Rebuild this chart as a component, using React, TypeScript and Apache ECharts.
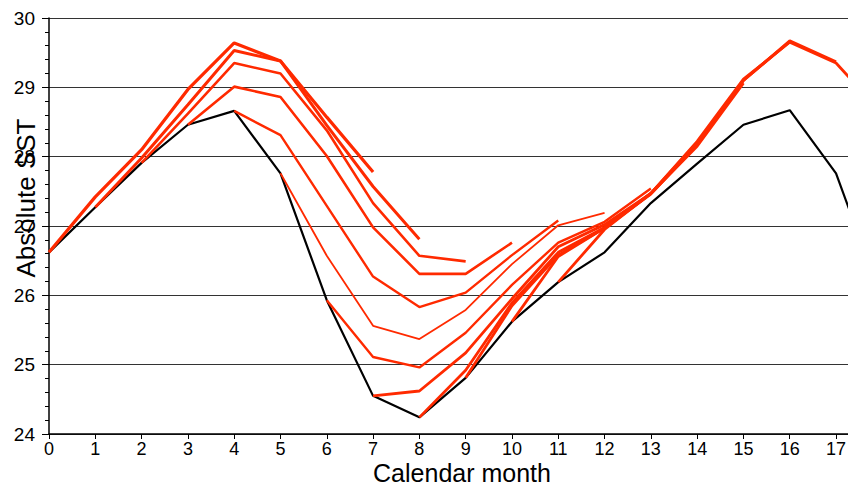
import { useEffect, useRef } from 'react';
import * as echarts from 'echarts';

// Calendar months along the x axis (0..18; the axis is cut at 17.28)
const monthTicks = [0, 1, 2, 3, 4, 5, 6, 7, 8, 9, 10, 11, 12, 13, 14, 15, 16, 17];
const climMonths = [0, 1, 2, 3, 4, 5, 6, 7, 8, 9, 10, 11, 12, 13, 14, 15, 16, 17, 18];
const climatology = [26.62, 27.27, 27.91, 28.46, 28.66, 27.76, 25.93, 24.55, 24.24, 24.81, 25.62, 26.19, 26.62, 27.33, 27.9, 28.46, 28.67, 27.76, 25.93];

// Forecast start months and the 8-month forecast trajectories (start month .. start+7)
const forecastStarts = [0, 1, 2, 3, 4, 5, 6, 7, 8, 9, 10, 11];
const forecast0 = [26.62, 27.42, 28.1, 28.97, 29.64, 29.38, 28.57, 27.78];
const forecast1 = [27.27, 27.98, 28.75, 29.53, 29.38, 28.45, 27.57, 26.81];
const forecast2 = [27.91, 28.62, 29.35, 29.2, 28.38, 27.33, 26.57, 26.49];
const forecast3 = [28.46, 29.01, 28.86, 28.01, 26.98, 26.31, 26.31, 26.76];
const forecast4 = [28.66, 28.31, 27.29, 26.27, 25.83, 26.04, 26.58, 27.08];
const forecast5 = [27.76, 26.57, 25.56, 25.37, 25.79, 26.45, 27.01, 27.19];
const forecast6 = [25.93, 25.11, 24.96, 25.46, 26.15, 26.76, 27.06, 27.54];
const forecast7 = [24.55, 24.62, 25.17, 25.95, 26.7, 27.02, 27.47, 28.18];
const forecast8 = [24.24, 24.92, 25.89, 26.62, 26.98, 27.47, 28.15, 29.06];
const forecast9 = [24.81, 25.85, 26.58, 26.97, 27.46, 28.17, 29.1, 29.66];
const forecast10 = [25.62, 26.56, 26.97, 27.47, 28.2, 29.1, 29.67, 29.37];
const forecast11 = [26.19, 26.95, 27.47, 28.22, 29.12, 29.65, 29.35, 28.62];
const forecasts = [forecast0, forecast1, forecast2, forecast3, forecast4, forecast5, forecast6, forecast7, forecast8, forecast9, forecast10, forecast11];
const forecastWidths = [3.2, 3, 2.6, 2.6, 2.4, 1.8, 2.4, 2.8, 2.8, 2.8, 2.8, 2.8];

const FONT = '"Liberation Sans", Arial, sans-serif';
const RED = '#ff2a00';

export default function App() {
  const ref = useRef<HTMLDivElement>(null);
  useEffect(() => {
    if (!ref.current) return;
    const chart = echarts.init(ref.current, undefined, { renderer: 'svg' });
    const redSeries = forecasts.map((vals, i) => ({
      type: 'line',
      name: 'Forecast ' + forecastStarts[i],
      data: vals.map((v, k) => [forecastStarts[i] + k, v]),
      symbol: 'none',
      lineStyle: { color: RED, width: forecastWidths[i] },
      itemStyle: { color: RED },
      z: 3,
    }));
    chart.setOption({
      animation: false,
      backgroundColor: '#ffffff',
      grid: { left: 41, top: 10, width: 800, height: 416, containLabel: false, outerBoundsMode: 'none' },
      xAxis: {
        type: 'value',
        min: 0,
        max: 17.28,
        interval: 1,
        name: 'Calendar month',
        nameLocation: 'middle',
        nameGap: 26.5,
        nameMoveOverlap: false,
        nameTextStyle: { fontFamily: FONT, fontSize: 25, lineHeight: 25, color: '#000', padding: [0, 0, 0, 26] },
        axisLine: { show: true, lineStyle: { color: '#000', width: 1.5 } },
        axisTick: { show: true, length: 5, lineStyle: { color: '#000' }, customValues: monthTicks },
        axisLabel: {
          fontFamily: FONT,
          fontSize: 18,
          lineHeight: 18,
          color: '#000',
          margin: 5.5,
          customValues: monthTicks,
          formatter: (v: number) => (Number.isInteger(v) ? String(v) : ''),
        },
        splitLine: { show: false },
      },
      yAxis: {
        type: 'value',
        min: 24,
        max: 30,
        interval: 1,
        name: 'Absolute SST',
        nameLocation: 'middle',
        nameGap: 10,
        nameMoveOverlap: false,
        nameTextStyle: { fontFamily: FONT, fontSize: 26, color: '#000', padding: [0, 0, 0, 56] },
        axisLine: { show: true, lineStyle: { color: '#000', width: 1.5 } },
        axisTick: { show: true, length: 7, lineStyle: { color: '#000' } },
        minorTick: { show: true, splitNumber: 5, length: 4, lineStyle: { color: '#000' } },
        axisLabel: { fontFamily: FONT, fontSize: 19, color: '#000', margin: 14 },
        splitLine: { show: true, lineStyle: { color: '#333', width: 1 } },
      },
      series: [
        ...redSeries,
        {
          type: 'line',
          name: 'Climatology',
          data: climMonths.map((m, i) => [m, climatology[i]]),
          symbol: 'none',
          lineStyle: { color: '#000', width: 2.2 },
          itemStyle: { color: '#000' },
          z: 2,
        },
      ],
    });
    return () => chart.dispose();
  }, []);
  return <div ref={ref} style={{ width: 848, height: 479 }} />;
}
